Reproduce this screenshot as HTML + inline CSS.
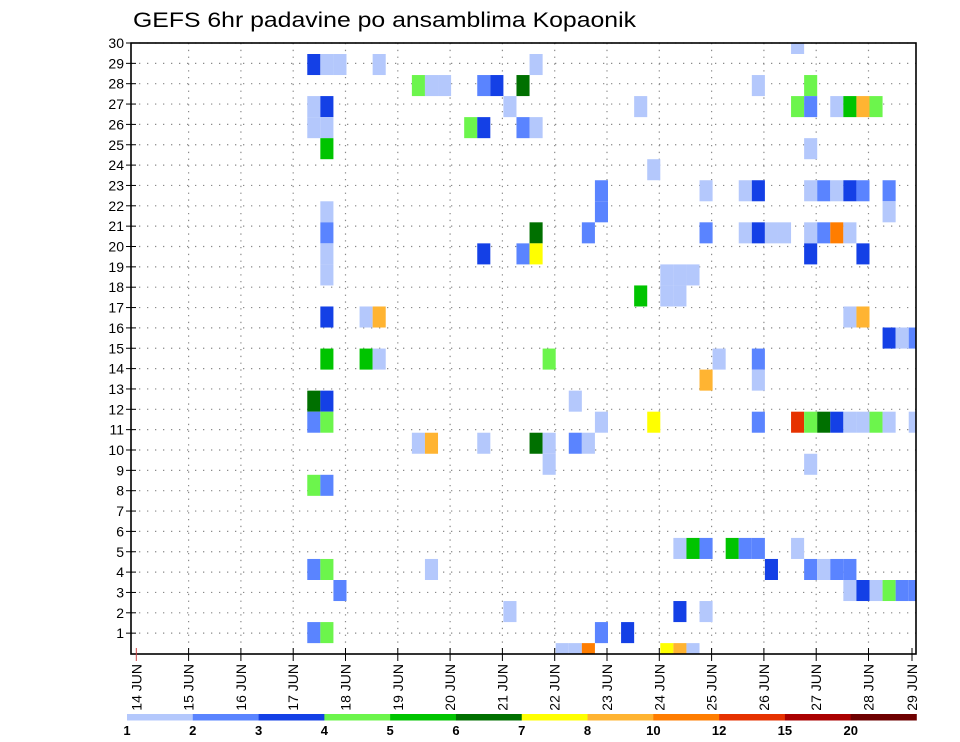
<!DOCTYPE html>
<html><head><meta charset="utf-8">
<style>
html,body{margin:0;padding:0;background:#fff;}
svg{display:block;font-family:"Liberation Sans",sans-serif;}
</style></head>
<body>
<svg id="chart" width="960" height="742" viewBox="0 0 960 742" xmlns="http://www.w3.org/2000/svg">
<rect x="0" y="0" width="960" height="742" fill="#fff"/>
<text x="133" y="27" font-size="21" fill="#000" textLength="503" lengthAdjust="spacingAndGlyphs">GEFS 6hr padavine po ansamblima Kopaonik</text>
<defs><clipPath id="plotclip"><rect x="131" y="43" width="785" height="611"/></clipPath></defs>
<g id="grid"></g>
<g id="cells" clip-path="url(#plotclip)"></g>
<rect x="131" y="43" width="785" height="611" fill="none" stroke="#000" stroke-width="1.6"/>
<g id="yaxis"></g>
<g id="xaxis"></g>
<g id="cbar"></g>
</svg>
<script>
// ensemble member (cell row), 6-hour step index from 14 JUN 00Z, color level (1..12)
const members = [30,29,29,29,29,29,28,28,28,28,28,28,28,28,27,27,27,27,27,27,27,27,27,27,26,26,26,26,26,26,25,25,24,
23,23,23,23,23,23,23,23,23,23,22,22,22,21,21,21,21,21,21,21,21,21,21,21,21,20,20,20,20,20,20,19,19,19,19,18,18,18,
17,17,17,17,17,16,16,16,15,15,15,15,15,15,14,14,13,13,13,12,12,12,12,12,12,12,12,12,12,12,12,12,12,
11,11,11,11,11,11,11,10,10,9,9,6,6,6,6,6,6,6,5,5,5,5,5,5,5,5,4,4,4,4,4,4,4,3,3,3,2,2,2,2,1,1,1,1,1,1];
const steps = [50,13,14,15,18,30,21,22,23,26,27,29,47,51,13,14,28,38,50,51,53,54,55,56,13,14,25,26,29,30,14,51,39,
35,43,46,47,51,52,53,54,55,57,14,35,57,14,30,34,43,46,47,48,49,51,52,53,54,14,26,29,30,51,55,14,40,41,42,38,40,41,
14,17,18,54,55,57,58,59,14,17,18,31,44,47,43,47,13,14,33,13,14,35,39,47,50,51,52,53,54,55,56,57,59,
21,22,26,30,31,33,34,31,51,13,14,41,42,43,45,46,47,50,13,14,22,48,51,52,53,54,15,54,55,56,57,58,59,28,41,43,13,14,35,37,32,33,34,40,41,42];
const levels = [1,3,1,1,1,1,4,1,1,2,3,6,1,4,1,3,1,1,4,2,1,5,8,4,1,1,4,3,2,1,5,1,1,
2,1,1,3,1,2,1,3,2,2,1,2,1,2,6,2,2,1,3,1,1,1,2,9,1,1,3,2,7,3,3,1,1,1,1,5,1,1,
3,1,8,1,8,3,1,2,5,5,1,4,1,2,8,1,6,3,1,2,4,1,7,2,10,4,6,3,1,1,4,1,1,
1,8,1,6,1,2,1,1,1,4,2,1,5,2,5,2,2,1,2,4,1,3,2,1,2,2,2,1,3,1,4,2,2,1,3,1,2,4,2,3,1,1,9,7,8,1];
const dayLabels = ["14","15","16","17","18","19","20","21","22","23","24","25","26","27","28","29"];
const rowLabels = [1,2,3,4,5,6,7,8,9,10,11,12,13,14,15,16,17,18,19,20,21,22,23,24,25,26,27,28,29,30];
const levelLabels = ["1","2","3","4","5","6","7","8","10","12","15","20"];
const palette = ["#b4c8fc","#5a84ff","#1440e6","#6cf54c","#00c400","#007000","#ffff00","#ffb432","#ff7d00","#e63200","#aa0000","#6e0000"];

const NS="http://www.w3.org/2000/svg";
function mk(tag, attrs, parent){const e=document.createElementNS(NS,tag);for(const k in attrs)e.setAttribute(k,attrs[k]);parent.appendChild(e);return e;}
// axis functions
const DAYW=52.3;
function xOf(days){return 136.3+days*DAYW;}
function yLab(r){return 653.5-r*20.35;}
const CELLH=21.04;
function yCellTop(m){return 54+(29-m)*CELLH;}
function cellX(k){return xOf(k*0.25)+1;}

const grid=document.getElementById('grid');
rowLabels.forEach(r=>{
  const l=mk('line',{x1:131,x2:916,y1:yLab(r),y2:yLab(r),stroke:'#8a8a8a','stroke-width':1.2,'stroke-dasharray':'1.3,6.7'},grid);
  
  
});
dayLabels.forEach((d,i)=>{
  if(i===0||i===15)return;
  const l=mk('line',{x1:xOf(i),x2:xOf(i),y1:43,y2:654,stroke:'#8a8a8a','stroke-width':1.2,'stroke-dasharray':'1.3,5.5'},grid);
  
  
});

const cells=document.getElementById('cells');
for(let i=0;i<members.length;i++){
  const r=mk('rect',{x:cellX(steps[i]),y:yCellTop(members[i]),width:DAYW/4,height:CELLH,fill:palette[levels[i]-1]},cells);
  
  
}

const ya=document.getElementById('yaxis');
rowLabels.forEach(r=>{
  const t=mk('line',{x1:126,x2:136,y1:yLab(r),y2:yLab(r),stroke:'#000','stroke-width':1},ya);
  
  
  const tx=mk('text',{x:124,y:yLab(r)+5,'font-size':14,'text-anchor':'end',fill:'#000'},ya);
  tx.textContent=String(r);
  
  
});

const xa=document.getElementById('xaxis');
dayLabels.forEach((d,i)=>{
  const x=Math.min(xOf(i),912);
  const t=mk('line',{x1:x,x2:x,y1:648,y2:661,stroke:i===0?'#c44':'#000','stroke-width':1},xa);
  
  
  const tx=mk('text',{x:0,y:0,'font-size':14,'text-anchor':'end',fill:'#000',transform:'translate('+(x+5)+',664) rotate(-90)'},xa);
  tx.textContent=d+' JUN';
  
  
});

const cb=document.getElementById('cbar');
const CB0=127, CBW=(916.5-127)/12;
palette.forEach((c,i)=>{
  const r=mk('rect',{x:CB0+i*CBW,y:714,width:CBW+0.3,height:6.5,fill:c},cb);
  
  
});
levelLabels.forEach((s,i)=>{
  const tx=mk('text',{x:CB0+i*CBW,y:735,'font-size':13,'font-weight':'bold','text-anchor':'middle',fill:'#000'},cb);
  tx.textContent=s;
  
  
});
</script>
</body></html>
